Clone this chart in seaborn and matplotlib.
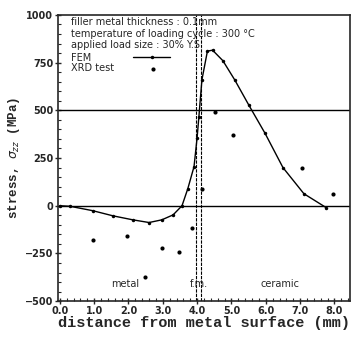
import numpy as np
import pandas as pd
import matplotlib
matplotlib.use("Agg")
import matplotlib.pyplot as plt
from matplotlib.ticker import MultipleLocator, FormatStrFormatter
import seaborn as sns

# FEM curve
fem_x = [0.0, 0.3, 0.96, 1.55, 2.13, 2.6, 2.97, 3.3, 3.56, 3.73, 3.91, 4.0, 4.05,
         4.14, 4.3, 4.45, 4.75, 5.1, 5.51, 5.98, 6.5, 7.11, 7.76]
fem_y = [0, -3, -26, -53, -74, -88, -74, -48, 0, 90, 205, 357, 463,
         660, 810, 815, 760, 658, 526, 379, 200, 63, -10]

# XRD measurements
xrd_x = [0.96, 1.95, 2.48, 2.97, 3.47, 3.85, 4.15, 4.52, 5.04, 7.06, 7.96]
xrd_y = [-179, -158, -374, -221, -242, -116, 90, 489, 368, 200, 63]

fem = pd.DataFrame({"x": fem_x, "y": fem_y})
xrd = pd.DataFrame({"x": xrd_x, "y": xrd_y})

sns.set_style("ticks")
plt.rcParams['font.family'] = ['DejaVu Sans']

fig = plt.figure(figsize=(3.52, 3.38), dpi=100)
ax = fig.add_axes([0.165, 0.109, 0.829, 0.847])

# reference lines
ax.axhline(0, color="black", lw=1.0, zorder=1)
ax.axhline(500, color="black", lw=1.0, zorder=1)
ax.axvline(3.98, color="black", lw=0.8, ls=(0, (3, 1)), zorder=1)
ax.axvline(4.10, color="black", lw=0.8, ls=(0, (3, 1)), zorder=1)

sns.lineplot(data=fem, x="x", y="y", ax=ax, color="black", lw=1.0,
             marker="o", markersize=2.5, markeredgewidth=0, sort=False,
             label="FEM", zorder=3)
sns.scatterplot(data=xrd, x="x", y="y", ax=ax, color="black", s=9,
                linewidth=0, label="XRD test", zorder=3)

ax.set_xlim(-0.05, 8.45)
ax.set_ylim(-500, 1000)
ax.xaxis.set_major_locator(MultipleLocator(1.0))
ax.xaxis.set_major_formatter(FormatStrFormatter("%.1f"))
ax.xaxis.set_minor_locator(MultipleLocator(0.2))
ax.yaxis.set_major_locator(MultipleLocator(250))
ax.yaxis.set_minor_locator(MultipleLocator(50))
ax.set_xticks(np.arange(0, 9, 1.0))
ax.tick_params(which="major", direction="inout", length=5, width=1.0,
               labelsize=7, pad=1)
ax.tick_params(which="minor", direction="in", length=2.5, width=0.8)
for lab in ax.get_xticklabels() + ax.get_yticklabels():
    lab.set_fontweight("bold")
for s in ax.spines.values():
    s.set_linewidth(1.2)

ax.set_xlabel("distance from metal surface (mm)", family="Liberation Mono",
              fontsize=11, fontweight="bold", labelpad=0)
ax.set_ylabel("stress, $\\sigma_{zz}$ (MPa)", family="Liberation Mono",
              fontsize=9, fontweight="bold", labelpad=2)

# conditions
info = ["filler metal thickness : 0.1mm",
        "temperature of loading cycle : 300 \u00b0C",
        "applied load size : 30% Y.S."]
for i, t in enumerate(info):
    ax.text(0.045, 0.993 - i * 0.041, t, transform=ax.transAxes, fontsize=7,
            va="top", ha="left")

# legend: text first, sample to the right (two legends so labels stay left)
handles, labels = ax.get_legend_handles_labels()
leg1 = ax.legend(handles[:1], labels[:1], loc="upper left",
                 bbox_to_anchor=(0.038, 0.875), frameon=False,
                 markerfirst=False, fontsize=7, handlelength=3.8,
                 handletextpad=4.3, borderaxespad=0, borderpad=0.2)
ax.add_artist(leg1)
leg2 = ax.legend(handles[1:], labels[1:], loc="upper left",
                 bbox_to_anchor=(0.038, 0.837), frameon=False,
                 markerfirst=False, fontsize=7, handlelength=3.8,
                 handletextpad=2.1, borderaxespad=0, borderpad=0.2)

# region labels
ax.text(1.9, -410, "metal", fontsize=7, ha="center", va="center")
ax.text(4.05, -410, "f.m.", fontsize=7, ha="center", va="center")
ax.text(6.4, -410, "ceramic", fontsize=7, ha="center", va="center")

fig.savefig("out.png", dpi=100)
